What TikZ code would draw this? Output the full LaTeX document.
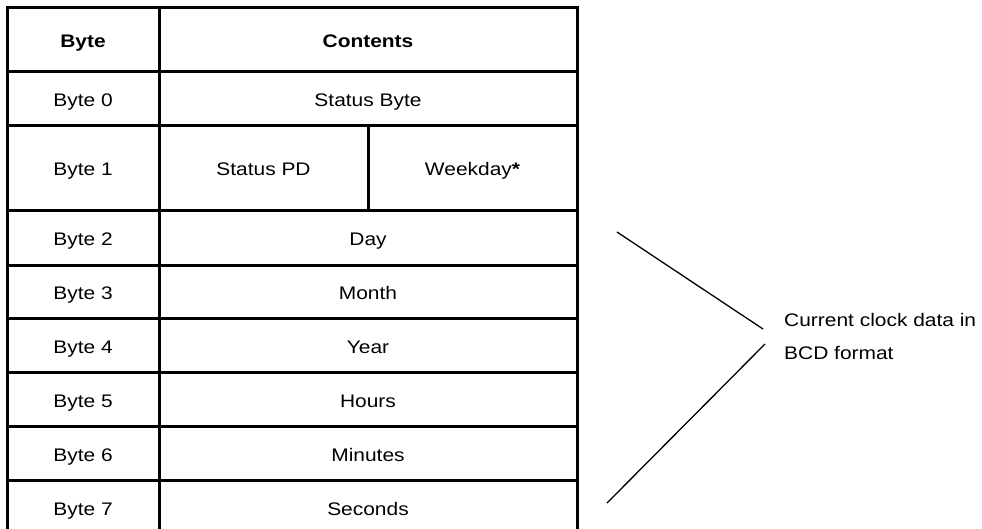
\documentclass[tikz,border=0pt]{standalone}
\usepackage{fontspec}
\setmainfont[FakeStretch=1.15]{Liberation Sans}
\begin{document}
\begin{tikzpicture}[x=1pt,y=-1pt,
  grid/.style={line width=3pt},
  cell/.style={font=\fontsize{18.2}{22}\selectfont, inner sep=0pt, anchor=base},
  head/.style={cell, font=\fontsize{18.2}{22}\selectfont\bfseries},
  brace/.style={line width=1.3pt},
  note/.style={font=\fontsize{18.2}{33}\selectfont, align=left, anchor=base west, inner sep=0pt}]
  \useasboundingbox (0,0) rectangle (982,528);
  \clip (0,0) rectangle (982,528);
  \fill[white] (0,0) rectangle (982,528);

  % table frame and rules
  \draw[grid] (7,540) -- (7,7) -- (577,7) -- (577,540);
  \draw[grid] (159,7) -- (159,540);
  \foreach \y in {71,125,210,265,318,372,426,480,534}
    \draw[grid] (7,\y) -- (577,\y);
  \draw[grid] (368,125) -- (368,210);

  % header
  \node[head] (hbyte) at (83,47) {Byte};
  \node[head] (hcont) at (368,47) {Contents};

  % rows
  \node[cell] (b0) at (83,106.5) {Byte 0};
  \node[cell] (c0) at (368,106.5) {Status Byte};
  \node[cell] (b1) at (83,175.5) {Byte 1};
  \node[cell] (c1a) at (263.5,175.5) {Status PD};
  \node[cell] (c1b) at (472.5,175.5) {Weekday\textbf{*}};
  \node[cell] (b2) at (83,245.5) {Byte 2};
  \node[cell] (c2) at (368,245.5) {Day};
  \node[cell] (b3) at (83,299.5) {Byte 3};
  \node[cell] (c3) at (368,299.5) {Month};
  \node[cell] (b4) at (83,353) {Byte 4};
  \node[cell] (c4) at (368,353) {Year};
  \node[cell] (b5) at (83,407) {Byte 5};
  \node[cell] (c5) at (368,407) {Hours};
  \node[cell] (b6) at (83,461) {Byte 6};
  \node[cell] (c6) at (368,461) {Minutes};
  \node[cell] (b7) at (83,515) {Byte 7};
  \node[cell] (c7) at (368,515) {Seconds};

  % bracket lines pointing to the note
  \coordinate (topstart) at (617,232);
  \coordinate (topend) at (763,329);
  \coordinate (botstart) at (607,503);
  \coordinate (botend) at (765,344);
  \draw[brace] (topstart) -- (topend);
  \draw[brace] (botstart) -- (botend);
  \node[note] (clk) at (784,359) {Current clock data in\\BCD format};
\end{tikzpicture}
\end{document}
